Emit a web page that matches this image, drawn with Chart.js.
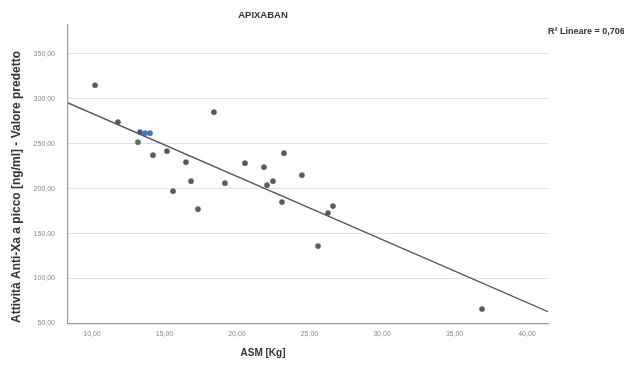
<!DOCTYPE html>
<html>
<head>
<meta charset="utf-8">
<script src="https://cdn.jsdelivr.net/npm/chart.js@4.4.1/dist/chart.umd.min.js"></script>
<style>
html,body{margin:0;padding:0;background:#fff;}
#c{display:block;}
</style>
</head>
<body>
<canvas id="c" width="624" height="366"></canvas>
<script>
const titleText = "APIXABAN";
const xTitle = "ASM [Kg]";
const yTitle = "Attività Anti-Xa a picco [ng/ml] - Valore predetto";
const r2Text = "R² Lineare = 0,706";

const asmKg = [10.21, 11.79, 13.31, 13.66, 14.00, 13.17, 14.21, 15.17, 16.48, 16.83, 15.59, 17.31, 18.41, 19.17, 20.55, 21.86, 23.24, 24.48, 22.48, 22.07, 23.10, 26.62, 26.28, 25.59, 36.90];
const antiXa = [315.0, 273.9, 262.8, 261.7, 261.7, 251.7, 237.2, 241.7, 229.4, 208.3, 197.2, 177.2, 285.0, 206.1, 228.3, 223.9, 239.4, 215.0, 208.3, 203.9, 185.0, 180.6, 172.8, 136.1, 66.1];
const pointColors = ["#5a5a5a","#5a5a5a","#3d5c9c","#4a6fb0","#4a6fb0","#4f7a4f","#5a5a5a","#5a5a5a","#5a5a5a","#5a5a5a","#5a5a5a","#5a5a5a","#5a5a5a","#5a5a5a","#5a5a5a","#5a5a5a","#5a5a5a","#5a5a5a","#5a5a5a","#5a5a5a","#5a5a5a","#5a5a5a","#5a5a5a","#5a5a5a","#5a5a5a"];

const fitX = [8.35, 41.45];
const fitY = [295.3, 63.1];

const xTicks = [10, 15, 20, 25, 30, 35, 40];
const yTicks = [50, 100, 150, 200, 250, 300, 350];

const fmt = v => v.toFixed(2).replace('.', ',');

const textPlugin = {
  id: 'texts',
  afterDraw(chart) {
    const ctx = chart.ctx;
    ctx.save();
    ctx.fillStyle = '#333';
    ctx.textBaseline = 'middle';
    ctx.font = 'bold 9.5px "Liberation Sans", Arial, sans-serif';
    ctx.textAlign = 'center';
    ctx.fillText(titleText, 263, 15);
    ctx.font = 'bold 10px "Liberation Sans", Arial, sans-serif';
    ctx.fillText(xTitle, 263, 353);
    ctx.save();
    ctx.translate(17, 187);
    ctx.rotate(-Math.PI / 2);
    ctx.font = 'bold 12px "Liberation Sans", Arial, sans-serif';
    ctx.fillText(yTitle, 0, 0);
    ctx.restore();
    ctx.font = 'bold 9px "Liberation Sans", Arial, sans-serif';
    ctx.textAlign = 'left';
    ctx.fillText(r2Text, 548, 32);
    ctx.restore();
  }
};

new Chart(document.getElementById('c'), {
  type: 'scatter',
  data: {
    datasets: [
      {
        type: 'line',
        data: fitX.map((x, i) => ({x: x, y: fitY[i]})),
        borderColor: '#555',
        borderWidth: 1.3,
        pointRadius: 0,
        fill: false
      },
      {
        data: asmKg.map((x, i) => ({x: x, y: antiXa[i]})),
        backgroundColor: pointColors,
        borderColor: pointColors,
        borderWidth: 0.5,
        pointRadius: 2.6
      }
    ]
  },
  options: {
    responsive: false,
    animation: false,
    devicePixelRatio: 1,
    layout: {padding: {top: 25, right: 76, left: 0, bottom: 0}},
    plugins: {legend: {display: false}, tooltip: {enabled: false}, title: {display: false}},
    scales: {
      x: {
        type: 'linear',
        min: 8.345,
        max: 41.45,
        afterFit: s => { s.height = 42.5; },
        afterBuildTicks: s => { s.ticks = xTicks.map(v => ({value: v})); },
        ticks: {
          includeBounds: false,
          padding: 6,
          color: '#888',
          font: {size: 7, family: '"Liberation Sans", Arial, sans-serif'},
          callback: v => fmt(v),
          maxRotation: 0
        },
        grid: {drawOnChartArea: false, drawTicks: false},
        border: {display: true, color: '#9a9a9a', width: 1.2}
      },
      y: {
        type: 'linear',
        min: 50,
        max: 382,
        afterFit: s => { s.width = 68; },
        afterBuildTicks: s => { s.ticks = yTicks.map(v => ({value: v})); },
        ticks: {
          includeBounds: false,
          padding: 13,
          color: '#888',
          font: {size: 7, family: '"Liberation Sans", Arial, sans-serif'},
          callback: v => fmt(v)
        },
        grid: {
          drawTicks: false,
          color: ctx => (ctx.tick && ctx.tick.value === 50) ? 'rgba(0,0,0,0)' : '#e2e2e2',
          lineWidth: 1
        },
        border: {display: true, color: '#9a9a9a', width: 1.2}
      }
    }
  },
  plugins: [textPlugin]
});
</script>
</body>
</html>
